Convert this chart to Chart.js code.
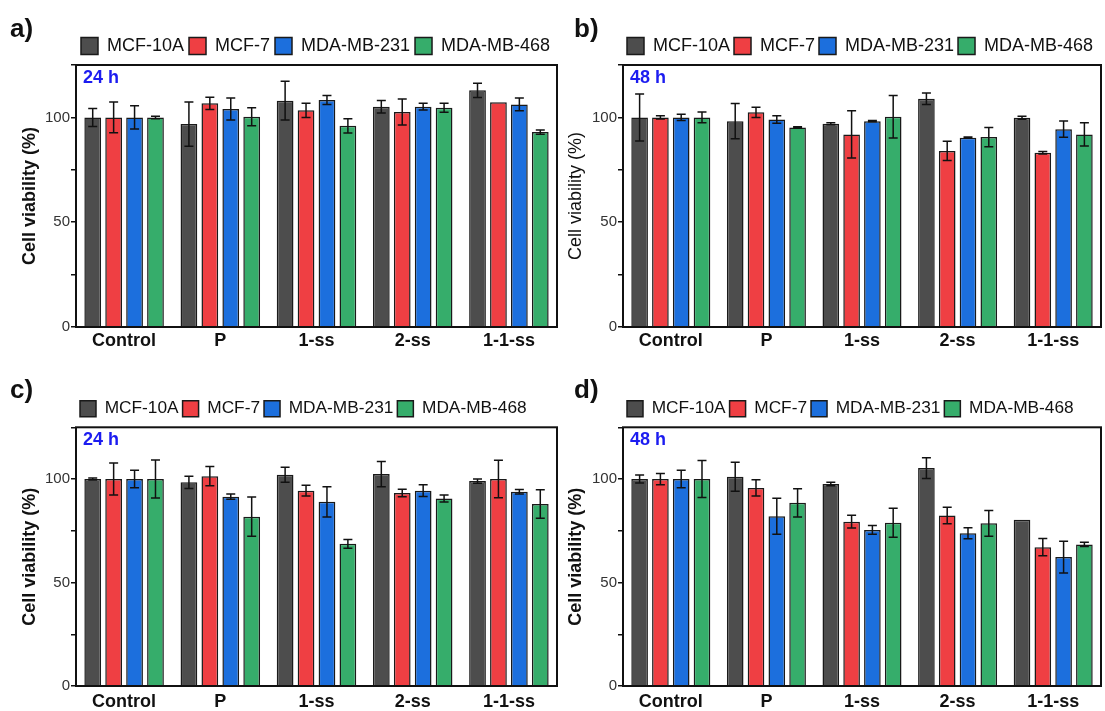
<!DOCTYPE html>
<html>
<head>
<meta charset="utf-8">
<script src="https://cdn.jsdelivr.net/npm/chart.js@4.4.1/dist/chart.umd.min.js"></script>
<style>
  body { margin: 0; background: #fff; width: 1105px; height: 711px; position: relative; overflow: hidden;
         font-family: "Liberation Sans", Arial, sans-serif; }
  .panel { position: absolute; }
  .tag { position: absolute; font-weight: bold; font-size: 26px; line-height: 26px; color: #111; }
</style>
</head>
<body>
<div class="panel" style="left:0;top:0"><canvas id="chartA" width="562" height="355"></canvas></div>
<div class="panel" style="left:548px;top:0"><canvas id="chartB" width="557" height="355"></canvas></div>
<div class="panel" style="left:0;top:359px"><canvas id="chartC" width="562" height="352"></canvas></div>
<div class="panel" style="left:548px;top:359px"><canvas id="chartD" width="557" height="352"></canvas></div>
<div class="tag" style="left:10px;top:15px">a)</div>
<div class="tag" style="left:574px;top:15px">b)</div>
<div class="tag" style="left:10px;top:376px">c)</div>
<div class="tag" style="left:574px;top:376px">d)</div>
<script>
// categories / series / ticks
const groups = ['Control', 'P', '1-ss', '2-ss', '1-1-ss'];
const cellLines = ['MCF-10A', 'MCF-7', 'MDA-MB-231', 'MDA-MB-468'];
const yMajorTicks = [0, 50, 100];

// a) 24 h
const a_mcf10a = [100, 96.8, 108.0, 105.1, 112.9];
const a_mcf7 = [100, 106.7, 103.4, 102.6, 107.2];
const a_mda231 = [100, 104.0, 108.3, 105.1, 106.2];
const a_mda468 = [100, 100.3, 96.0, 104.6, 93.0];
const a_mcf10a_sd = [4.3, 10.6, 9.3, 3.0, 3.4];
const a_mcf7_sd = [7.3, 2.9, 3.4, 6.2, 0];
const a_mda231_sd = [5.5, 5.3, 2.1, 1.6, 3.0];
const a_mda468_sd = [0.6, 4.3, 3.4, 2.2, 1.0];

// b) 48 h
const b_mcf10a = [100, 98.2, 97.0, 108.9, 99.8];
const b_mcf7 = [100, 102.4, 91.9, 84.0, 83.1];
const b_mda231 = [100, 99.0, 98.2, 90.3, 94.4];
const b_mda468 = [100, 95.2, 100.3, 90.6, 91.9];
const b_mcf10a_sd = [11.2, 8.4, 0.5, 2.8, 0.7];
const b_mcf7_sd = [0.8, 2.5, 11.3, 4.6, 0.6];
const b_mda231_sd = [1.5, 1.8, 0.3, 0.3, 3.9];
const b_mda468_sd = [2.6, 0.3, 10.1, 4.6, 5.6];

// c) 24 h
const c_mcf10a = [100, 98.4, 102.1, 102.4, 99.0];
const c_mcf7 = [100, 101.4, 94.4, 93.3, 100];
const c_mda231 = [100, 91.5, 89.0, 94.4, 93.9];
const c_mda468 = [100, 81.8, 68.7, 90.6, 87.9];
const c_mcf10a_sd = [0.5, 3.0, 3.6, 6.1, 1.0];
const c_mcf7_sd = [7.7, 4.6, 2.6, 1.8, 9.1];
const c_mda231_sd = [4.2, 1.3, 7.3, 2.8, 1.1];
const c_mda468_sd = [9.2, 9.5, 2.1, 1.7, 6.9];

// d) 48 h
const d_mcf10a = [100, 101.1, 97.6, 105.3, 80.3];
const d_mcf7 = [100, 95.7, 79.4, 82.4, 67.1];
const d_mda231 = [100, 82.0, 75.4, 73.8, 62.3];
const d_mda468 = [100, 88.5, 78.9, 78.6, 68.4];
const d_mcf10a_sd = [1.9, 7.0, 0.8, 5.0, 0];
const d_mcf7_sd = [2.7, 3.9, 3.1, 4.0, 4.2];
const d_mda231_sd = [4.2, 8.7, 2.1, 2.7, 7.7];
const d_mda468_sd = [8.9, 6.8, 7.0, 6.2, 1.0];

const barColors = ['#4d4d4d', '#ef3f43', '#1c6fdd', '#36ad6b'];
const FONT = '"Liberation Sans", Arial, sans-serif';

// error bars drawn from each bar's value through the y scale
const errorBarPlugin = {
  id: 'errorBars',
  afterDatasetsDraw(chart) {
    const ctx = chart.ctx;
    const y = chart.scales.y;
    ctx.save();
    ctx.strokeStyle = '#111';
    ctx.lineWidth = 1.5;
    chart.data.datasets.forEach((ds, i) => {
      chart.getDatasetMeta(i).data.forEach((bar, j) => {
        const e = ds.errors[j];
        if (!e) return;
        const top = y.getPixelForValue(ds.data[j] + e);
        const bot = y.getPixelForValue(ds.data[j] - e);
        const w = 4.5;
        ctx.beginPath();
        ctx.moveTo(bar.x, top); ctx.lineTo(bar.x, bot);
        ctx.moveTo(bar.x - w, top); ctx.lineTo(bar.x + w, top);
        ctx.moveTo(bar.x - w, bot); ctx.lineTo(bar.x + w, bot);
        ctx.stroke();
      });
    });
    ctx.restore();
  }
};

// box around the plot + time label
const framePlugin = {
  id: 'frameBox',
  afterDatasetsDraw(chart, args, opts) {
    const { ctx, chartArea: a } = chart;
    ctx.save();
    ctx.strokeStyle = '#111';
    ctx.lineWidth = 2;
    ctx.strokeRect(a.left, a.top, a.right - a.left, a.bottom - a.top);
    ctx.fillStyle = '#1c1cf0';
    ctx.font = 'bold 18px ' + FONT;
    ctx.textBaseline = 'top';
    ctx.fillText(opts.label, a.left + 7, a.top + 4);
    ctx.restore();
  }
};

function buildChart(id, p) {
  const datasets = p.series.map((vals, i) => ({
    label: cellLines[i],
    data: vals,
    errors: p.errors[i],
    backgroundColor: barColors[i],
    borderColor: '#1a1a1a',
    borderWidth: 1.5,
    categoryPercentage: 0.87,
    barPercentage: 0.8
  }));

  return new Chart(document.getElementById(id), {
    type: 'bar',
    data: { labels: groups, datasets },
    plugins: [errorBarPlugin, framePlugin],
    options: {
      responsive: false,
      animation: false,
      devicePixelRatio: 1,
      layout: { padding: { left: p.padLeft, right: p.padRight, top: p.padTop, bottom: 0 } },
      plugins: {
        frameBox: { label: p.hours },
        tooltip: { enabled: false },
        legend: {
          position: 'top',
          align: 'start',
          fullSize: false,
          labels: {
            color: '#111',
            font: { family: FONT, size: p.legendSize },
            boxWidth: p.boxSize,
            boxHeight: p.boxSize,
            padding: p.legendPad
          }
        }
      },
      scales: {
        x: {
          grid: { display: false, drawTicks: false, tickLength: 0 },
          border: { display: false },
          ticks: { color: '#111', font: { family: FONT, size: 18, weight: 'bold' }, padding: p.xPad },
          afterFit: (s) => { s.height = p.xHeight; }
        },
        y: {
          min: 0,
          max: 125,
          border: { display: false },
          grid: { drawOnChartArea: false, drawTicks: true, tickLength: 5, color: '#111', lineWidth: 1.5 },
          ticks: {
            stepSize: 25,
            color: '#333',
            font: { family: FONT, size: 15 },
            padding: 1,
            callback: (v) => (yMajorTicks.includes(v) ? v : '')
          },
          title: {
            display: true,
            text: 'Cell viability (%)',
            color: '#111',
            font: { family: FONT, size: 18, weight: p.titleWeight },
            padding: { top: 0, bottom: 0 }
          },
          afterFit: (s) => { s.width = p.yWidth; }
        }
      }
    }
  });
}

buildChart('chartA', {
  series: [a_mcf10a, a_mcf7, a_mda231, a_mda468],
  errors: [a_mcf10a_sd, a_mcf7_sd, a_mda231_sd, a_mda468_sd],
  hours: '24 h', legendSize: 18, boxSize: 17, legendPad: 5, titleWeight: 'bold',
  padLeft: 19, padRight: 5, padTop: 32, yWidth: 57, xHeight: 28, xPad: 3
});
buildChart('chartB', {
  series: [b_mcf10a, b_mcf7, b_mda231, b_mda468],
  errors: [b_mcf10a_sd, b_mcf7_sd, b_mda231_sd, b_mda468_sd],
  hours: '48 h', legendSize: 18, boxSize: 17, legendPad: 4, titleWeight: 'normal',
  padLeft: 17, padRight: 4, padTop: 33, yWidth: 58, xHeight: 28, xPad: 3
});
buildChart('chartC', {
  series: [c_mcf10a, c_mcf7, c_mda231, c_mda468],
  errors: [c_mcf10a_sd, c_mcf7_sd, c_mda231_sd, c_mda468_sd],
  hours: '24 h', legendSize: 17.3, boxSize: 16, legendPad: 4, titleWeight: 'bold',
  padLeft: 19, padRight: 5, padTop: 37, yWidth: 57, xHeight: 25, xPad: 5
});
buildChart('chartD', {
  series: [d_mcf10a, d_mcf7, d_mda231, d_mda468],
  errors: [d_mcf10a_sd, d_mcf7_sd, d_mda231_sd, d_mda468_sd],
  hours: '48 h', legendSize: 17.3, boxSize: 16, legendPad: 4, titleWeight: 'bold',
  padLeft: 17, padRight: 4, padTop: 37, yWidth: 58, xHeight: 25, xPad: 5
});
</script>
</body>
</html>
